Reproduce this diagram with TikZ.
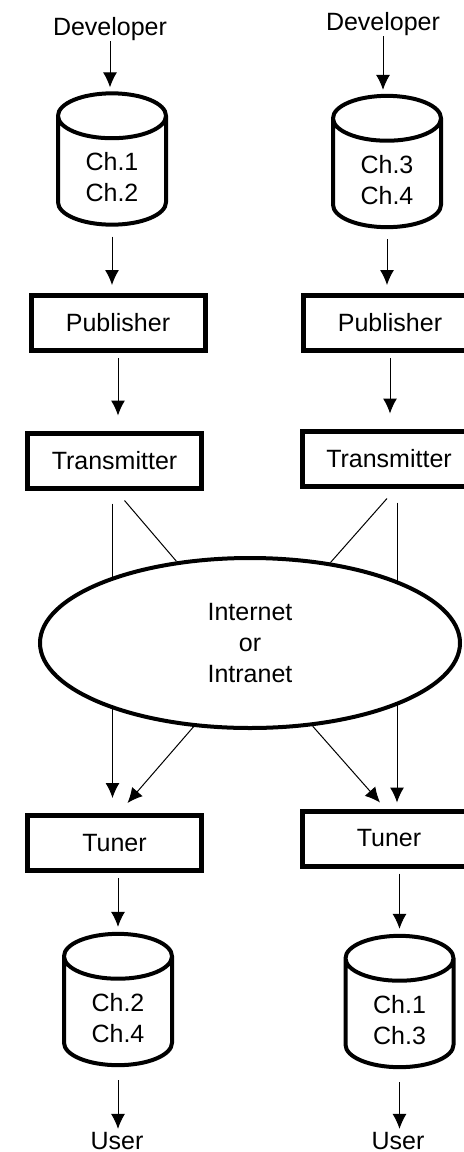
\documentclass[tikz,border=0pt]{standalone}
\usepackage{fontspec}
\setmainfont{Liberation Sans}
\usetikzlibrary{shapes.geometric,arrows.meta}

% two channel names, set a little low inside a drum
\newcommand{\chans}[2]{\raisebox{-4.5pt}[\height][\depth]{\begin{tabular}{@{}c@{}}#1\\#2\end{tabular}}}

\begin{document}
\begin{tikzpicture}[x=0.5pt,y=-0.5pt,
	font=\fontsize{12.5}{15.5}\selectfont,
	who/.style={inner sep=0pt},
	box/.style={draw, line width=2.5pt, minimum width=87pt, minimum height=27.5pt, inner sep=0pt},
	db/.style={cylinder, shape border rotate=90, draw, line width=2pt, aspect=0.85,
		minimum width=54pt, minimum height=57pt, inner sep=0pt, anchor=shape center},
	arr/.style={-{Latex[length=7.5pt,width=7pt]}, line width=0.5pt},
	wire/.style={line width=0.5pt}]

	\useasboundingbox (0,0) rectangle (463,1152);

	% sending side
	\node[who] (dev1) at (110,29) {Developer};
	\node[who] (dev2) at (383,24) {Developer};
	\node[db] (db1) at (112,159) {\chans{Ch.1}{Ch.2}};
	\node[db] (db2) at (387,161.5) {\chans{Ch.3}{Ch.4}};
	\node[box] (pub1) at (118,323) {Publisher};
	\node[box] (pub2) at (390,323) {Publisher};
	\node[box] (tx1) at (114.5,460.5) {Transmitter};
	\node[box] (tx2) at (389,458.5) {Transmitter};

	% receiving side
	\node[box] (tu1) at (114.5,843) {Tuner};
	\node[box] (tu2) at (389,838.5) {Tuner};
	\node[db] (db3) at (118,999.5) {\chans{Ch.2}{Ch.4}};
	\node[db] (db4) at (399.5,1001.5) {\chans{Ch.1}{Ch.3}};
	\node[who] (user1) at (117,1141) {User};
	\node[who] (user2) at (398,1141) {User};

	\draw[arr, shorten >=2pt] (dev1.south) -- (dev1.south |- db1.north);
	\draw[arr, shorten >=2pt] (dev2.south) -- (dev2.south |- db2.north);
	\draw[arr, shorten <=5pt, shorten >=4pt] (db1.south) -- (db1.south |- pub1.north);
	\draw[arr, shorten <=5pt, shorten >=4pt] (db2.south) -- (db2.south |- pub2.north);
	\draw[arr, shorten <=2.5pt, shorten >=7.5pt] (pub1.south) -- (pub1.south |- tx1.north);
	\draw[arr, shorten <=2.5pt, shorten >=7.5pt] (pub2.south) -- (pub2.south |- tx2.north);

	% straight lines pass behind the network
	\draw[arr, shorten <=6.5pt, shorten >=7.5pt] ([xshift=-1pt]tx1.south) -- ([xshift=-1pt]tx1.south |- tu1.north);
	\draw[arr, shorten <=7pt, shorten >=3pt] ([xshift=4pt]tx2.south) -- ([xshift=4pt]tx2.south |- tu2.north);

	\node[ellipse, draw, fill=white, line width=2pt, minimum width=210pt, minimum height=85pt,
		inner sep=0pt, align=center] (net) at (250,643) {Internet\\or\\Intranet};

	\draw[wire] ([shift={(10,10)}]tx1.south) -- (net.132);
	\draw[wire] ([shift={(-2,10)}]tx2.south) -- (net.45);
	\draw[arr] (net.236) -- ([shift={(13,-10)}]tu1.north);
	\draw[arr] (net.307) -- ([shift={(-9,-6)}]tu2.north);

	\draw[arr, shorten <=2.5pt, shorten >=2.5pt] (db3.north |- tu1.south) -- (db3.north);
	\draw[arr, shorten <=2.5pt, shorten >=2.5pt] (db4.north |- tu2.south) -- (db4.north);
	\draw[arr, shorten <=6.5pt, shorten >=1.5pt] (db3.south) -- (db3.south |- user1.north);
	\draw[arr, shorten <=6.5pt, shorten >=1.5pt] (db4.south) -- (db4.south |- user2.north);

\end{tikzpicture}
\end{document}
